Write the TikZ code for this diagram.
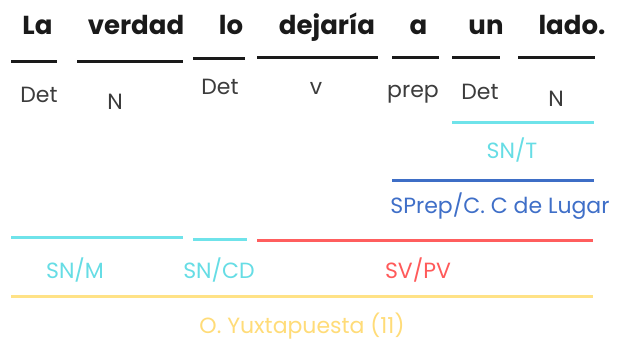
\documentclass[tikz,border=0pt]{standalone}
\usepackage{fontspec}
\setmainfont{Poppins}
\definecolor{cyanln}{HTML}{6FE3EA}
\definecolor{cyantx}{HTML}{66DDE5}
\definecolor{blueln}{HTML}{3E6EC6}
\definecolor{bluetx}{HTML}{3F6FC8}
\definecolor{redln}{HTML}{FF5E5E}
\definecolor{redtx}{HTML}{FF5A5A}
\definecolor{yelln}{HTML}{FFE286}
\definecolor{yeltx}{HTML}{FFDC78}
\definecolor{ink}{HTML}{1A1A1A}
\begin{document}
\begin{tikzpicture}[x=1pt,y=-1pt,
  word/.style={anchor=base,inner sep=0pt,text=ink,font=\fontsize{26}{30}\selectfont\bfseries},
  cat/.style={anchor=base,inner sep=0pt,text=ink!85,font=\fontsize{22}{26}\selectfont},
  fn/.style={anchor=base,inner sep=0pt,font=\fontsize{22}{26}\selectfont},
  ul/.style={line width=3pt,draw=ink},
  cl/.style={line width=3pt}]
\useasboundingbox[fill=white] (0,0) rectangle (622,344);
% words
\node[word] (w1) at (37.5,35) {La};
\node[word] (w2) at (136,35) {verdad};
\node[word] (w3) at (231,35) {lo};
\node[word] (w4) at (327,35) {dejaría};
\node[word] (w5) at (418.5,35) {a};
\node[word] (w6) at (486,35) {un};
\node[word] (w7) at (572,35) {lado.};
% underlines
\draw[ul] (11,62) -- (57,62);
\draw[ul] (77,62) -- (183,62);
\draw[ul] (193,59) -- (245,59);
\draw[ul] (257,58) -- (378,58);
\draw[ul] (392,58) -- (439,58);
\draw[ul] (452,58) -- (500,58);
\draw[ul] (518,58) -- (595,58);
% categories
\node[cat] (c1) at (39,103) {Det};
\node[cat] (c2) at (115,110) {N};
\node[cat] (c3) at (220,95) {Det};
\node[cat] (c4) at (316,95) {v};
\node[cat] (c5) at (413,98) {prep};
\node[cat] (c6) at (480,100) {Det};
\node[cat] (c7) at (556,107) {N};
% SN/T
\draw[cl,cyanln] (452,123) -- (594,123);
\node[fn,text=cyantx] (snt) at (512,159) {SN/T};
% SPrep
\draw[cl,blueln] (392,181) -- (594,181);
\node[fn,text=bluetx] (sprep) at (500,214) {SPrep/C. C de Lugar};
% lower row
\draw[cl,cyanln] (11,238) -- (183,238);
\draw[cl,cyanln] (193,240) -- (247,240);
\draw[cl,redln] (257,241) -- (593,241);
\node[fn,text=cyantx] (snm) at (75,279) {SN/M};
\node[fn,text=cyantx] (sncd) at (219,279) {SN/CD};
\node[fn,text=redtx] (sv) at (418,279) {SV/PV};
\draw[cl,yelln] (11,297) -- (593,297);
\node[fn,text=yeltx] (oy) at (302,334) {O. Yuxtapuesta (11)};
\end{tikzpicture}
\end{document}
